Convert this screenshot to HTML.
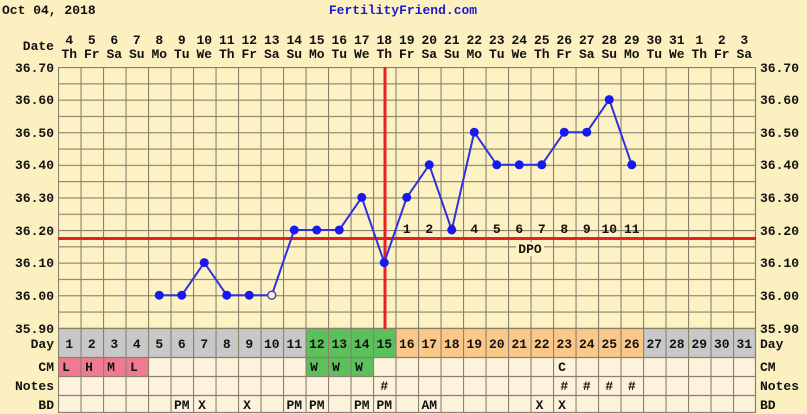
<!DOCTYPE html>
<html><head><meta charset="utf-8"><style>
html,body{margin:0;padding:0;background:#fcf0c0;}
svg{display:block}
text{font-family:"Liberation Mono",monospace;font-weight:bold;font-size:13px;fill:#111}
</style></head><body>
<svg width="807" height="414" viewBox="0 0 807 414" xmlns="http://www.w3.org/2000/svg">
<defs>
<pattern id="g" x="58" y="67" width="22.5" height="16.3" patternUnits="userSpaceOnUse">
<path d="M0.5 0V16.3M0 0.5H22.5" stroke="#8a806c" stroke-width="1.2" fill="none"/>
</pattern>
<pattern id="v" x="58" y="0" width="22.5" height="414" patternUnits="userSpaceOnUse">
<path d="M0.5 0V414" stroke="#8a806c" stroke-width="1.2"/>
</pattern>
</defs>
<rect width="807" height="414" fill="#fcf0c0"/>
<text x="2" y="14">Oct 04, 2018</text>
<text x="403" y="14" text-anchor="middle" fill="#1a1ad0" style="fill:#1a1ad0">FertilityFriend.com</text>
<!-- plot -->
<rect x="58" y="67" width="698" height="261" fill="#fdf2c4"/>
<rect x="58" y="67" width="698" height="261" fill="url(#g)"/>
<!-- rows -->
<rect x="58" y="328" width="247.5" height="29" fill="#c8c8c8"/>
<rect x="305.5" y="328" width="90" height="29" fill="#5cc05c"/>
<rect x="395.5" y="328" width="247.5" height="29" fill="#fcc88a"/>
<rect x="643" y="328" width="113" height="29" fill="#c8c8c8"/>
<rect x="58" y="357" width="698" height="56" fill="#fdf3dc"/>
<rect x="58" y="357" width="90" height="19" fill="#f07a90"/>
<rect x="305.5" y="357" width="67.5" height="19" fill="#5cc05c"/>
<rect x="58" y="328" width="698" height="85" fill="url(#v)"/>
<path d="M58 328.5H756M58 357.5H756M58 376.5H756M58 395.5H756M58 412.5H756M755.5 67V413" stroke="#8a806c" stroke-width="1.2"/>
<!-- left labels -->
<g text-anchor="end">
<text x="54" y="50">Date</text>
<text x="54" y="72">36.70</text><text x="54" y="104">36.60</text><text x="54" y="137">36.50</text>
<text x="54" y="169">36.40</text><text x="54" y="202">36.30</text><text x="54" y="235">36.20</text>
<text x="54" y="267">36.10</text><text x="54" y="300">36.00</text><text x="54" y="333">35.90</text>
<text x="54" y="348">Day</text><text x="54" y="371">CM</text><text x="54" y="390">Notes</text><text x="54" y="409">BD</text>
</g>
<g>
<text x="760" y="72">36.70</text><text x="760" y="104">36.60</text><text x="760" y="137">36.50</text>
<text x="760" y="169">36.40</text><text x="760" y="202">36.30</text><text x="760" y="235">36.20</text>
<text x="760" y="267">36.10</text><text x="760" y="300">36.00</text><text x="760" y="333">35.90</text>
<text x="760" y="348">Day</text><text x="760" y="371">CM</text><text x="760" y="390">Notes</text><text x="760" y="409">BD</text>
</g>
<!-- date row -->
<g text-anchor="middle">
<text x="69.25" y="44">4</text><text x="91.75" y="44">5</text><text x="114.25" y="44">6</text><text x="136.75" y="44">7</text><text x="159.25" y="44">8</text><text x="181.75" y="44">9</text><text x="204.25" y="44">10</text><text x="226.75" y="44">11</text><text x="249.25" y="44">12</text><text x="271.75" y="44">13</text><text x="294.25" y="44">14</text><text x="316.75" y="44">15</text><text x="339.25" y="44">16</text><text x="361.75" y="44">17</text><text x="384.25" y="44">18</text><text x="406.75" y="44">19</text><text x="429.25" y="44">20</text><text x="451.75" y="44">21</text><text x="474.25" y="44">22</text><text x="496.75" y="44">23</text><text x="519.25" y="44">24</text><text x="541.75" y="44">25</text><text x="564.25" y="44">26</text><text x="586.75" y="44">27</text><text x="609.25" y="44">28</text><text x="631.75" y="44">29</text><text x="654.25" y="44">30</text><text x="676.75" y="44">31</text><text x="699.25" y="44">1</text><text x="721.75" y="44">2</text><text x="744.25" y="44">3</text>
<text x="69.25" y="58">Th</text><text x="91.75" y="58">Fr</text><text x="114.25" y="58">Sa</text><text x="136.75" y="58">Su</text><text x="159.25" y="58">Mo</text><text x="181.75" y="58">Tu</text><text x="204.25" y="58">We</text><text x="226.75" y="58">Th</text><text x="249.25" y="58">Fr</text><text x="271.75" y="58">Sa</text><text x="294.25" y="58">Su</text><text x="316.75" y="58">Mo</text><text x="339.25" y="58">Tu</text><text x="361.75" y="58">We</text><text x="384.25" y="58">Th</text><text x="406.75" y="58">Fr</text><text x="429.25" y="58">Sa</text><text x="451.75" y="58">Su</text><text x="474.25" y="58">Mo</text><text x="496.75" y="58">Tu</text><text x="519.25" y="58">We</text><text x="541.75" y="58">Th</text><text x="564.25" y="58">Fr</text><text x="586.75" y="58">Sa</text><text x="609.25" y="58">Su</text><text x="631.75" y="58">Mo</text><text x="654.25" y="58">Tu</text><text x="676.75" y="58">We</text><text x="699.25" y="58">Th</text><text x="721.75" y="58">Fr</text><text x="744.25" y="58">Sa</text>
<!-- day numbers -->
<text x="69.25" y="348">1</text><text x="91.75" y="348">2</text><text x="114.25" y="348">3</text><text x="136.75" y="348">4</text><text x="159.25" y="348">5</text><text x="181.75" y="348">6</text><text x="204.25" y="348">7</text><text x="226.75" y="348">8</text><text x="249.25" y="348">9</text><text x="271.75" y="348">10</text><text x="294.25" y="348">11</text><text x="316.75" y="348">12</text><text x="339.25" y="348">13</text><text x="361.75" y="348">14</text><text x="384.25" y="348">15</text><text x="406.75" y="348">16</text><text x="429.25" y="348">17</text><text x="451.75" y="348">18</text><text x="474.25" y="348">19</text><text x="496.75" y="348">20</text><text x="519.25" y="348">21</text><text x="541.75" y="348">22</text><text x="564.25" y="348">23</text><text x="586.75" y="348">24</text><text x="609.25" y="348">25</text><text x="631.75" y="348">26</text><text x="654.25" y="348">27</text><text x="676.75" y="348">28</text><text x="699.25" y="348">29</text><text x="721.75" y="348">30</text><text x="744.25" y="348">31</text>
<!-- CM -->
<text x="66" y="371">L</text><text x="89" y="371">H</text><text x="111" y="371">M</text><text x="134" y="371">L</text>
<text x="314" y="371">W</text><text x="336" y="371">W</text><text x="359" y="371">W</text><text x="562" y="371">C</text>
<!-- Notes -->
<text x="384.25" y="390">#</text><text x="564.25" y="390">#</text><text x="586.75" y="390">#</text><text x="609.25" y="390">#</text><text x="631.75" y="390">#</text>
<!-- BD -->
<text x="181.75" y="409">PM</text><text x="202" y="409">X</text><text x="247" y="409">X</text><text x="294.25" y="409">PM</text><text x="316.75" y="409">PM</text><text x="361.75" y="409">PM</text><text x="384.25" y="409">PM</text><text x="429.25" y="409">AM</text><text x="539.5" y="409">X</text><text x="562" y="409">X</text>
</g>
<!-- coverline & ovulation -->
<line x1="385" y1="67" x2="385" y2="329" stroke="#e82020" stroke-width="3"/>
<line x1="58" y1="238.5" x2="756" y2="238.5" stroke="#e82020" stroke-width="3"/>
<rect x="516" y="242" width="28" height="14" fill="#fdf2c4"/>
<text x="530" y="253" text-anchor="middle">DPO</text>
<g text-anchor="middle">
<text x="406.75" y="233">1</text><text x="429.25" y="233">2</text><text x="451.75" y="233">3</text><text x="474.25" y="233">4</text><text x="496.75" y="233">5</text><text x="519.25" y="233">6</text><text x="541.75" y="233">7</text><text x="564.25" y="233">8</text><text x="586.75" y="233">9</text><text x="609.25" y="233">10</text><text x="631.75" y="233">11</text>
</g>
<!-- temps -->
<polyline fill="none" stroke="#3030e0" stroke-width="2" points="159.25,295.2 181.75,295.2 204.25,262.6 226.75,295.2 249.25,295.2 271.75,295.2 294.25,230 316.75,230 339.25,230 361.75,197.4 384.25,262.6 406.75,197.4 429.25,164.8 451.75,230 474.25,132.2 496.75,164.8 519.25,164.8 541.75,164.8 564.25,132.2 586.75,132.2 609.25,99.6 631.75,164.8"/>
<g fill="#1818f0">
<circle cx="159.25" cy="295.2" r="4.5"/><circle cx="181.75" cy="295.2" r="4.5"/><circle cx="204.25" cy="262.6" r="4.5"/><circle cx="226.75" cy="295.2" r="4.5"/><circle cx="249.25" cy="295.2" r="4.5"/>
<circle cx="294.25" cy="230" r="4.5"/><circle cx="316.75" cy="230" r="4.5"/><circle cx="339.25" cy="230" r="4.5"/><circle cx="361.75" cy="197.4" r="4.5"/><circle cx="384.25" cy="262.6" r="4.5"/><circle cx="406.75" cy="197.4" r="4.5"/><circle cx="429.25" cy="164.8" r="4.5"/><circle cx="451.75" cy="230" r="4.5"/><circle cx="474.25" cy="132.2" r="4.5"/><circle cx="496.75" cy="164.8" r="4.5"/><circle cx="519.25" cy="164.8" r="4.5"/><circle cx="541.75" cy="164.8" r="4.5"/><circle cx="564.25" cy="132.2" r="4.5"/><circle cx="586.75" cy="132.2" r="4.5"/><circle cx="609.25" cy="99.6" r="4.5"/><circle cx="631.75" cy="164.8" r="4.5"/>
</g>
<circle cx="271.75" cy="295.2" r="4" fill="#fdf2c4" stroke="#3030e0" stroke-width="1.3"/>
</svg>
</body></html>
